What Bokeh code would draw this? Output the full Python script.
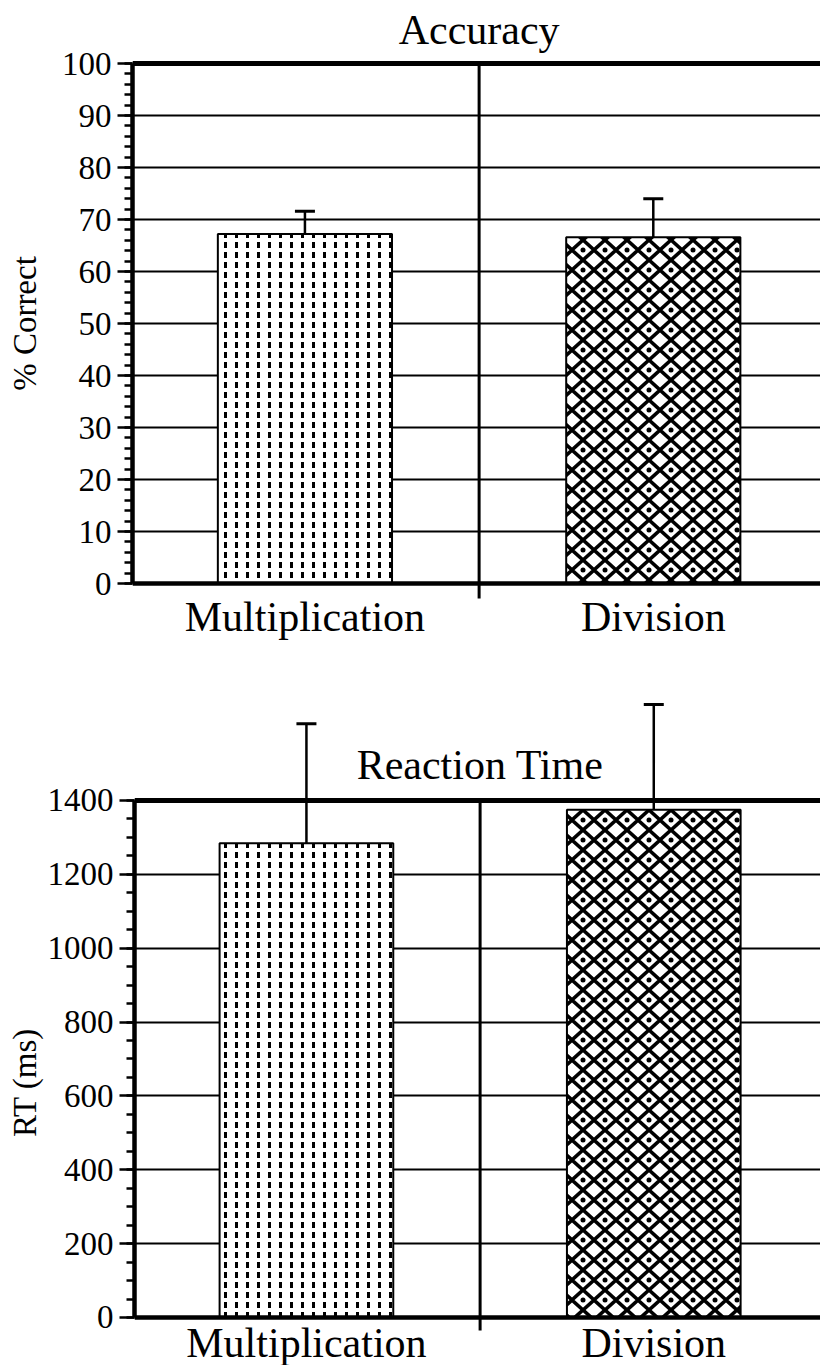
import base64
import math
from bokeh.plotting import figure
from bokeh.models import (Range1d, FixedTicker, ColumnDataSource, Whisker, TeeHead,
                          Label, Span, ImageURLTexture)
from bokeh.layouts import column, row
from bokeh.core.properties import value, field
from bokeh.embed import file_html
from bokeh.resources import INLINE

# ---------------- data ----------------
categories = ["Multiplication", "Division"]
acc_mean = [67.2, 66.6]
acc_err = [4.4, 7.4]
rt_mean = [1284, 1375]
rt_err = [324, 285]
acc_ticks = [0, 10, 20, 30, 40, 50, 60, 70, 80, 90, 100]
rt_ticks = [0, 200, 400, 600, 800, 1000, 1200, 1400]
patterns = ["mult_dash", "div_lattice"]

FONT = "Liberation Serif"
X_START, X_END = 0.005, 1.98
STRIP_W = 44


def svg_uri(svg):
    return "data:image/svg+xml;base64," + base64.b64encode(svg.encode()).decode()


MULT_TILE = ("<svg xmlns='http://www.w3.org/2000/svg' width='11' height='10'>"
             "<rect x='4' y='2' width='3' height='6' fill='black'/></svg>")
DIV_TILE = ("<svg xmlns='http://www.w3.org/2000/svg' width='22' height='20'>"
            "<path d='M0 10 L11 0 L22 10 L11 20 Z' fill='none' stroke='black' stroke-width='3.6'/>"
            "<circle cx='11' cy='10' r='2.5' fill='black'/></svg>")


def textures():
    return {
        "mult_dash": ImageURLTexture(url=svg_uri(MULT_TILE), repetition="repeat"),
        "div_lattice": ImageURLTexture(url=svg_uri(DIV_TILE), repetition="repeat"),
    }


xs = [i + 0.5 for i in range(len(categories))]


def make_panel(height, y_range, means, errs, ticks, minor_step, title, title_y,
               label_y, divider_bottom, ylabel, ylabel_y):
    top = ticks[-1]
    p = figure(width=820 - STRIP_W, height=height, x_range=Range1d(X_START, X_END),
               y_range=y_range, output_backend="svg", toolbar_location=None,
               x_axis_location=None, min_border_left=132 - STRIP_W, min_border_right=0,
               min_border_top=0, min_border_bottom=0, outline_line_color=None,
               background_fill_color="white", border_fill_color="white")
    ticker = FixedTicker(ticks=ticks,
                         minor_ticks=list(range(ticks[0], top + 1, minor_step)))
    ax = p.yaxis[0]
    ax.ticker = ticker
    ax.bounds = (ticks[0], top)
    ax.axis_line_width = 4.5
    ax.axis_line_color = "black"
    ax.major_tick_out = 15
    ax.major_tick_in = 0
    ax.minor_tick_out = 8
    ax.minor_tick_in = 0
    ax.major_tick_line_width = 2.5
    ax.minor_tick_line_width = 2.5
    ax.major_label_text_font = FONT
    ax.major_label_text_font_size = "33px"
    ax.major_label_text_color = "black"
    ax.major_label_standoff = 6

    p.xgrid.visible = False
    p.ygrid.ticker = FixedTicker(ticks=ticks)
    p.ygrid.grid_line_color = "black"
    p.ygrid.grid_line_width = 2.2

    # frame lines
    p.add_layout(Span(location=top, dimension="width", line_color="black", line_width=5))
    p.add_layout(Span(location=ticks[0], dimension="width", line_color="black", line_width=4.5))
    p.segment(x0=[1.0], x1=[1.0], y0=[top], y1=[divider_bottom], line_color="black",
              line_width=3)

    src = ColumnDataSource(dict(x=xs, mean=means, upper=[m + e for m, e in zip(means, errs)],
                                pattern=patterns, label=categories))
    p.add_layout(Whisker(base="x", lower="mean", upper="upper", source=src,
                         dimension="height", line_width=2.5, line_color="black",
                         upper_head=TeeHead(size=20, line_width=3, line_color="black"),
                         lower_head=None, level="glyph"))
    p.vbar(x="x", top="mean", bottom=0, width=0.5, source=src, fill_color="white",
           line_color="black", line_width=2, hatch_pattern=field("pattern"),
           hatch_extra=textures())

    p.text(x="x", y=label_y, text="label", source=src, text_font=value(FONT),
           text_font_size=value("42px"), text_align="center",
           text_baseline="alphabetic", text_color="black")
    p.add_layout(Label(x=1.0, y=title_y, text=title, text_font=FONT, text_font_size="42px",
                       text_align="center", text_baseline="alphabetic",
                       text_color="black"))

    # narrow strip on the left that carries the y-axis title
    s = figure(width=STRIP_W, height=height, x_range=Range1d(0, STRIP_W), y_range=y_range,
               output_backend="svg", toolbar_location=None, x_axis_location=None,
               y_axis_location=None, min_border=0, outline_line_color=None,
               background_fill_color="white", border_fill_color="white")
    s.xgrid.visible = False
    s.ygrid.visible = False
    s.text(x=[24], y=[ylabel_y], text=[ylabel], angle=math.pi / 2, text_font=value(FONT),
           text_font_size=value("33px"), text_align="center", text_baseline="middle",
           text_color="black")
    return row(s, p, spacing=0)


p1 = make_panel(670, Range1d(-16.73, 112.12), acc_mean, acc_err, acc_ticks, 2,
                "Accuracy", 106.5, -6.5, -2.9, "% Correct", 50)
p2 = make_panel(695, Range1d(-130.0, 1752.0), rt_mean, rt_err, rt_ticks, 50,
                "Reaction Time", 1494.8, -68.0, -35, "RT (ms)", 636)

layout = column(p1, p2, spacing=0)
open("out.html", "w").write(file_html(layout, INLINE))
